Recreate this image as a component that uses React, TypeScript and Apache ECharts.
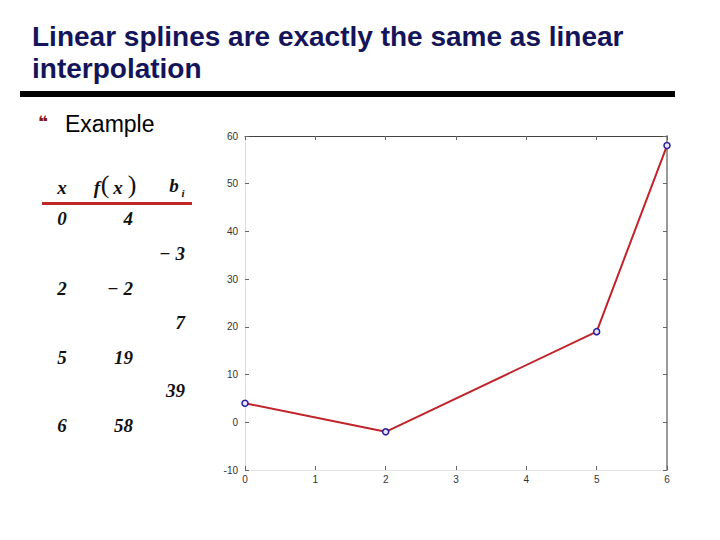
import React, { useEffect, useRef } from "react";
import * as echarts from "echarts";

const xValues = [0, 2, 5, 6];
const fValues = [4, -2, 19, 58];
const bValues = [-3, 7, 39];
const titleLines = ["Linear splines are exactly the same as linear", "interpolation"];
const bulletText = "Example";

const fmt = (v: number) => (v < 0 ? "\u2212 " + Math.abs(v) : String(v));

export default function App() {
  const ref = useRef<HTMLDivElement>(null);
  useEffect(() => {
    if (!ref.current) return;
    const chart = echarts.init(ref.current, undefined, { renderer: "svg" });
    const numFont = "italic bold 19px 'Liberation Serif', 'DejaVu Serif', serif";
    const parenFont = "26px 'Liberation Serif', 'DejaVu Serif', serif";
    const rowY = [218, 288, 357, 425];
    const bRowY = [253, 322, 390];
    const graphics: any[] = [];
    const txt = (x: number, y: number, text: string, font: string, align = "center", fill = "#111") => ({
      type: "text",
      x,
      y,
      style: { text, font, fill, textAlign: align, textVerticalAlign: "middle" },
    });
    titleLines.forEach((t, i) => {
      graphics.push(txt(32, 36 + i * 32, t, "bold 28px 'Liberation Sans', Arial, sans-serif", "left", "#14145a"));
    });
    graphics.push({
      type: "rect",
      shape: { x: 20, y: 91, width: 655, height: 6 },
      style: { fill: "#000000" },
    });
    graphics.push(txt(43, 122, "\u275D", "bold 17px 'DejaVu Sans', sans-serif", "center", "#8b1a1a"));
    graphics.push(txt(65, 124, bulletText, "23px 'Liberation Sans', Arial, sans-serif", "left", "#000000"));
    // table header
    graphics.push(txt(62, 187, "x", numFont));
    graphics.push(txt(97, 187, "f", numFont));
    graphics.push(txt(105, 184, "(", parenFont));
    graphics.push(txt(118, 187, "x", numFont));
    graphics.push(txt(132, 184, ")", parenFont));
    graphics.push(txt(174, 185, "b", numFont));
    graphics.push(txt(183, 193, "i", "italic bold 11px 'Liberation Serif', serif"));
    graphics.push({
      type: "rect",
      shape: { x: 42, y: 202, width: 150, height: 3 },
      style: { fill: "#c0282a" },
    });
    xValues.forEach((v, i) => {
      graphics.push(txt(62, rowY[i], String(v), numFont));
      graphics.push(txt(133, rowY[i], fmt(fValues[i]), numFont, "right"));
    });
    bValues.forEach((v, i) => {
      graphics.push(txt(185, bRowY[i], fmt(v), numFont, "right"));
    });

    const axisLabel = { fontSize: 10, color: "#333", fontFamily: "'Liberation Sans', Arial, sans-serif" };
    chart.setOption({
      animation: false,
      backgroundColor: "#ffffff",
      grid: { left: 245, top: 136, right: 53, bottom: 70, containLabel: false },
      xAxis: [
        {
          type: "value",
          position: "bottom",
          min: 0,
          max: 6,
          interval: 1,
          axisLine: { onZero: false, lineStyle: { color: "#e2e2e2", width: 1 } },
          axisTick: { inside: true, length: 4, lineStyle: { color: "#666" } },
          axisLabel: { ...axisLabel, margin: 4 },
          splitLine: { show: false },
        },
        {
          type: "value",
          position: "top",
          min: 0,
          max: 6,
          interval: 1,
          axisLine: { onZero: false, lineStyle: { color: "#444", width: 1 } },
          axisTick: { inside: true, length: 4, lineStyle: { color: "#666" } },
          axisLabel: { show: false },
          splitLine: { show: false },
        },
      ],
      yAxis: [
        {
          type: "value",
          position: "left",
          min: -10,
          max: 60,
          interval: 10,
          axisLine: { show: true, onZero: false, lineStyle: { color: "#dddddd", width: 1 } },
          axisTick: { show: true, inside: true, length: 4, lineStyle: { color: "#666" } },
          axisLabel: { ...axisLabel, margin: 7 },
          splitLine: { show: false },
        },
        {
          type: "value",
          position: "right",
          min: -10,
          max: 60,
          interval: 10,
          axisLine: { show: true, onZero: false, lineStyle: { color: "#9a9a9a", width: 2 } },
          axisTick: { show: true, inside: true, length: 4, lineStyle: { color: "#666" } },
          axisLabel: { show: false },
          splitLine: { show: false },
        },
      ],
      series: [
        {
          type: "line",
          data: xValues.map((x, i) => [x, fValues[i]]),
          symbol: "circle",
          symbolSize: 6,
          lineStyle: { color: "#c0242a", width: 2 },
          itemStyle: { color: "#e6e6ff", borderColor: "#2a1c9e", borderWidth: 1.5 },
        },
      ],
      graphic: graphics,
    });
    return () => chart.dispose();
  }, []);
  return (
    <div
      ref={ref}
      style={{ position: "absolute", left: 0, top: 0, width: 720, height: 540 }}
    />
  );
}
